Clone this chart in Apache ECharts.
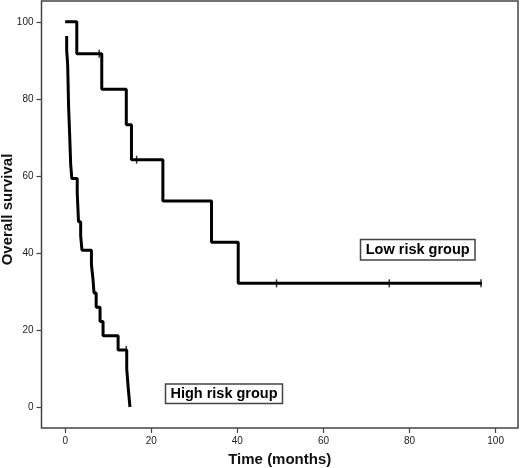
<!DOCTYPE html>
<html>
<head>
<meta charset="utf-8">
<script src="https://cdn.jsdelivr.net/npm/echarts@6/dist/echarts.min.js"></script>
<style>
  html, body { margin: 0; padding: 0; background: #fff; }
  #chart { width: 520px; height: 468px; }
</style>
</head>
<body>
<div id="chart"></div>
<script>
// low risk group: event times (months) and survival after each drop
let lowTime = [0, 2.7, 8.5, 14.2, 15.4, 22.7, 34.0, 40.2, 96.8]
let lowSurv = [100, 91.7, 82.5, 73.3, 64.2, 53.5, 42.8, 32.1, 32.1]
let lowCensTime = [7.9, 16.6, 49.1, 75.3, 96.6]
let lowCensSurv = [91.7, 64.2, 32.1, 32.1, 32.1]

// high risk group
let highTime = [0.35, 0.35, 0.58, 0.8, 1.05, 1.28, 1.55, 2.8, 3.1, 3.6, 3.9, 6.1, 6.45, 6.7, 7.2, 8.1, 8.8, 12.3, 14.3, 14.65, 15.05]
let highSurv = [96.3, 92.6, 88.9, 77.8, 70.4, 63.0, 59.3, 55.6, 48.1, 44.4, 40.7, 37.0, 33.3, 29.6, 25.9, 22.2, 18.5, 14.8, 9.9, 4.9, 0]
let highCensTime = [14.2]
let highCensSurv = [14.8]

let xTicks = [0, 20, 40, 60, 80, 100]
let yTicks = [0, 20, 40, 60, 80, 100]

const zip = (a, b) => a.map((v, i) => [v, b[i]])

let chart = echarts.init(document.getElementById('chart'), null, {renderer: 'canvas'})

const frame = '#444'
const labelFont = {color: '#222', fontSize: 10, fontFamily: 'Liberation Sans, Arial, sans-serif'}
const titleFont = {color: '#111', fontSize: 15, fontWeight: 'bold', fontFamily: 'Liberation Sans, Arial, sans-serif'}

chart.setOption({
    animation: false,
    grid: {left: 41.5, right: 2, top: 1, bottom: 40, show: true, borderColor: frame, borderWidth: 1.5,
           backgroundColor: '#fff', containLabel: false, outerBoundsMode: 'none'},
    xAxis: {
        type: 'value', min: -5.5, max: 105.2,
        name: 'Time (months)', nameLocation: 'middle', nameGap: 24,
        nameTextStyle: titleFont,
        splitLine: {show: false},
        axisLine: {show: false, onZero: false},
        axisTick: {show: true, customValues: xTicks, length: 5, lineStyle: {color: frame, width: 1.2}},
        axisLabel: {customValues: xTicks, margin: 8, ...labelFont}
    },
    yAxis: {
        type: 'value', min: -5.45, max: 105.4,
        name: 'Overall survival', nameLocation: 'middle', nameGap: 26, nameRotate: 90,
        nameMoveOverlap: false,
        nameTextStyle: {...titleFont, padding: [0, 0, 0, 10]},
        splitLine: {show: false},
        axisLine: {show: false, onZero: false},
        axisTick: {show: true, customValues: yTicks, length: 5, lineStyle: {color: frame, width: 1.2}},
        axisLabel: {customValues: yTicks, margin: 8, ...labelFont}
    },
    series: [
        {type: 'line', step: 'end', data: zip(lowTime, lowSurv), symbol: 'none',
         lineStyle: {color: '#000', width: 3}},
        {type: 'line', step: 'end', data: zip(highTime, highSurv), symbol: 'none',
         lineStyle: {color: '#000', width: 3}},
        {type: 'scatter', data: zip(lowCensTime, lowCensSurv), symbol: 'rect', symbolSize: [1.5, 8],
         itemStyle: {color: '#000'}},
        {type: 'scatter', data: zip(highCensTime, highCensSurv), symbol: 'rect', symbolSize: [1.5, 8],
         itemStyle: {color: '#000'}}
    ],
    graphic: [
        {type: 'rect', shape: {x: 360.5, y: 239.5, width: 114.5, height: 20.5},
         style: {fill: '#fff', stroke: frame, lineWidth: 1.5}},
        {type: 'text', x: 417.7, y: 250, style: {text: 'Low risk group', ...titleFont, fill: '#000', fontSize: 14.5, align: 'center', verticalAlign: 'middle'}},
        {type: 'rect', shape: {x: 165.5, y: 384, width: 117, height: 19.5},
         style: {fill: '#fff', stroke: frame, lineWidth: 1.5}},
        {type: 'text', x: 224, y: 394, style: {text: 'High risk group', ...titleFont, fill: '#000', fontSize: 14.5, align: 'center', verticalAlign: 'middle'}}
    ]
})
</script>
</body>
</html>
